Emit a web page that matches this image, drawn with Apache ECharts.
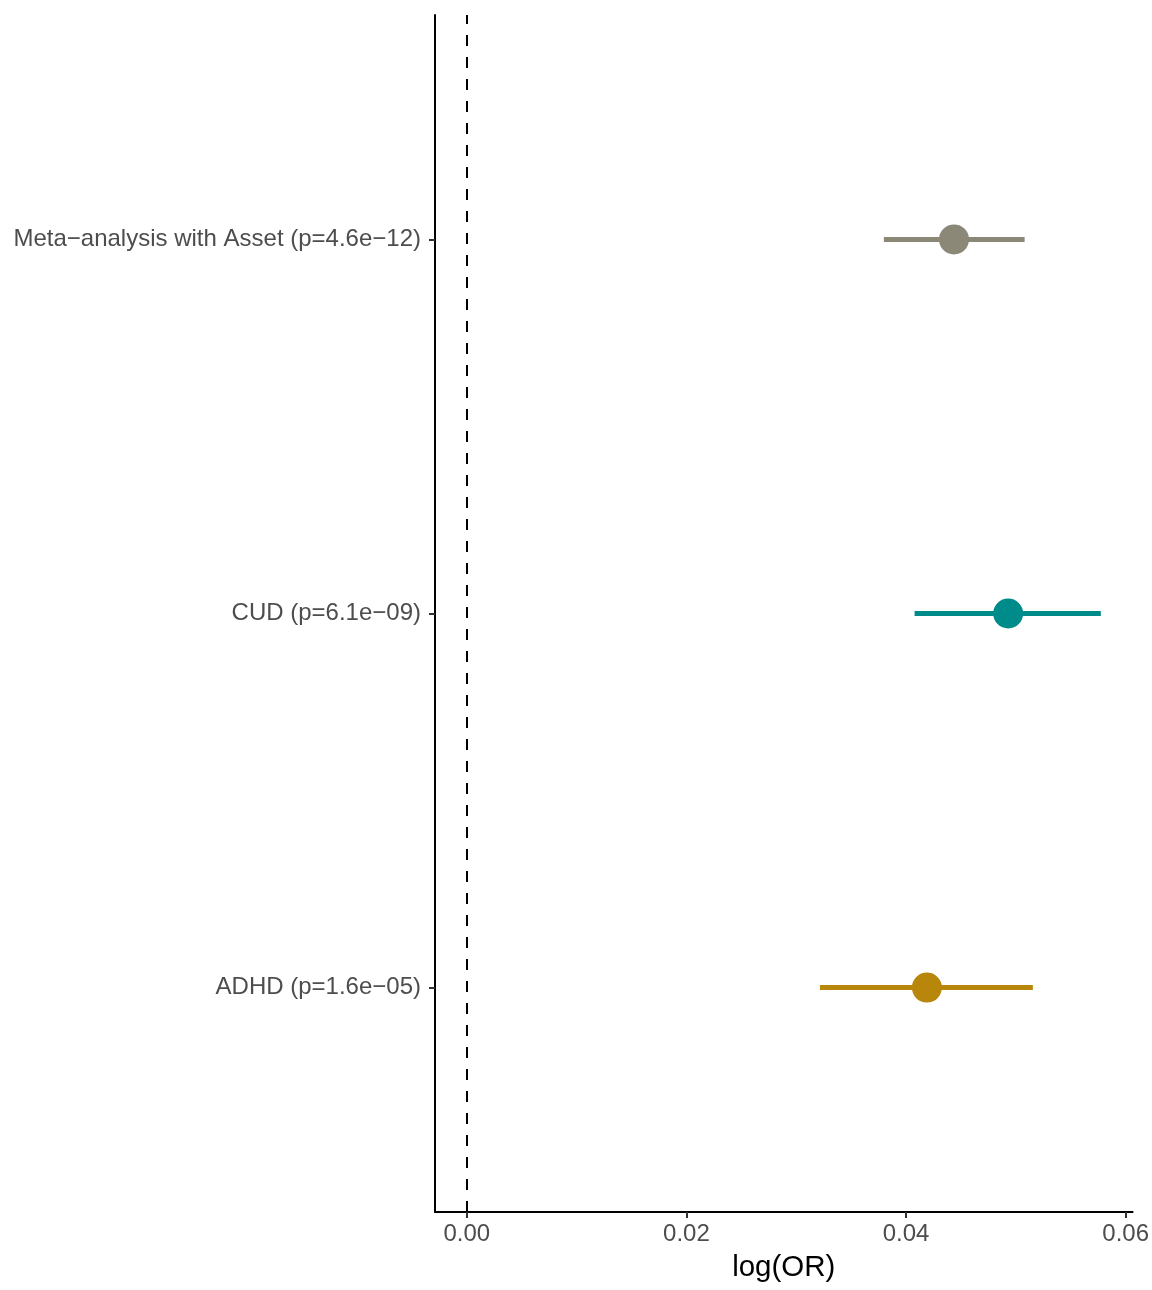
<!DOCTYPE html>
<html><head><meta charset="utf-8">
<script src="https://cdn.jsdelivr.net/npm/echarts@6/dist/echarts.min.js"></script>
<style>html,body{margin:0;padding:0;background:#fff}#c{width:1152px;height:1290px}</style>
</head><body><div id="c"></div>
<script>
const labels = ["ADHD (p=1.6e\u221205)", "CUD (p=6.1e\u221209)", "Meta\u2212analysis with Asset (p=4.6e\u221212)"];
const est = [0.0419, 0.0493, 0.04437];
const lower = [0.03216, 0.04078, 0.03798];
const upper = [0.05155, 0.05774, 0.0508];
const colors = ["#B8860B", "#008B8B", "#8B8878"];
const xTicks = [0, 0.02, 0.04, 0.06];
const FONT = "Liberation Sans, Arial, sans-serif";

const chart = echarts.init(document.getElementById('c'));
const series = [];
labels.forEach((l, i) => {
  series.push({
    type: 'line', data: [[lower[i], i + 1], [upper[i], i + 1]],
    symbol: 'none', lineStyle: {color: colors[i], width: 5, cap: 'butt'},
    silent: true, z: 3
  });
});
series.push({
  type: 'scatter',
  data: est.map((v, i) => ({value: [v, i + 1], itemStyle: {color: colors[i], opacity: 1}})),
  symbolSize: 30, z: 4,
  markLine: {
    silent: true, symbol: 'none', label: {show: false},
    lineStyle: {color: '#000', width: 2, type: [11, 11]},
    data: [{xAxis: 0}]
  }
});

chart.setOption({
  animation: false,
  backgroundColor: '#fff',
  grid: {left: 435, top: 15, width: 702, height: 1197, containLabel: false},
  xAxis: {
    type: 'value', min: -0.002896, max: 0.06063,
    name: 'log(OR)', nameLocation: 'middle', nameGap: 41,
    nameTextStyle: {fontFamily: FONT, fontSize: 29.5, color: '#000'},
    axisLine: {show: true, onZero: false, lineStyle: {color: '#000', width: 2}},
    axisTick: {show: true, length: 6, lineStyle: {color: '#333', width: 2}, customValues: xTicks},
    axisLabel: {fontFamily: FONT, fontSize: 24, color: '#4D4D4D', margin: 10, customValues: xTicks,
      formatter: v => v.toFixed(2)},
    splitLine: {show: false}
  },
  yAxis: {
    type: 'value', min: 0.4, max: 3.6,
    axisLine: {show: true, onZero: false, lineStyle: {color: '#000', width: 2}},
    axisTick: {show: true, length: 6, lineStyle: {color: '#333', width: 2}, customValues: [1, 2, 3]},
    axisLabel: {fontFamily: FONT, fontSize: 24, color: '#4D4D4D', margin: 14, customValues: [1, 2, 3],
      formatter: v => labels[Math.round(v) - 1] || ''},
    splitLine: {show: false}
  },
  series: series
});
</script></body></html>
